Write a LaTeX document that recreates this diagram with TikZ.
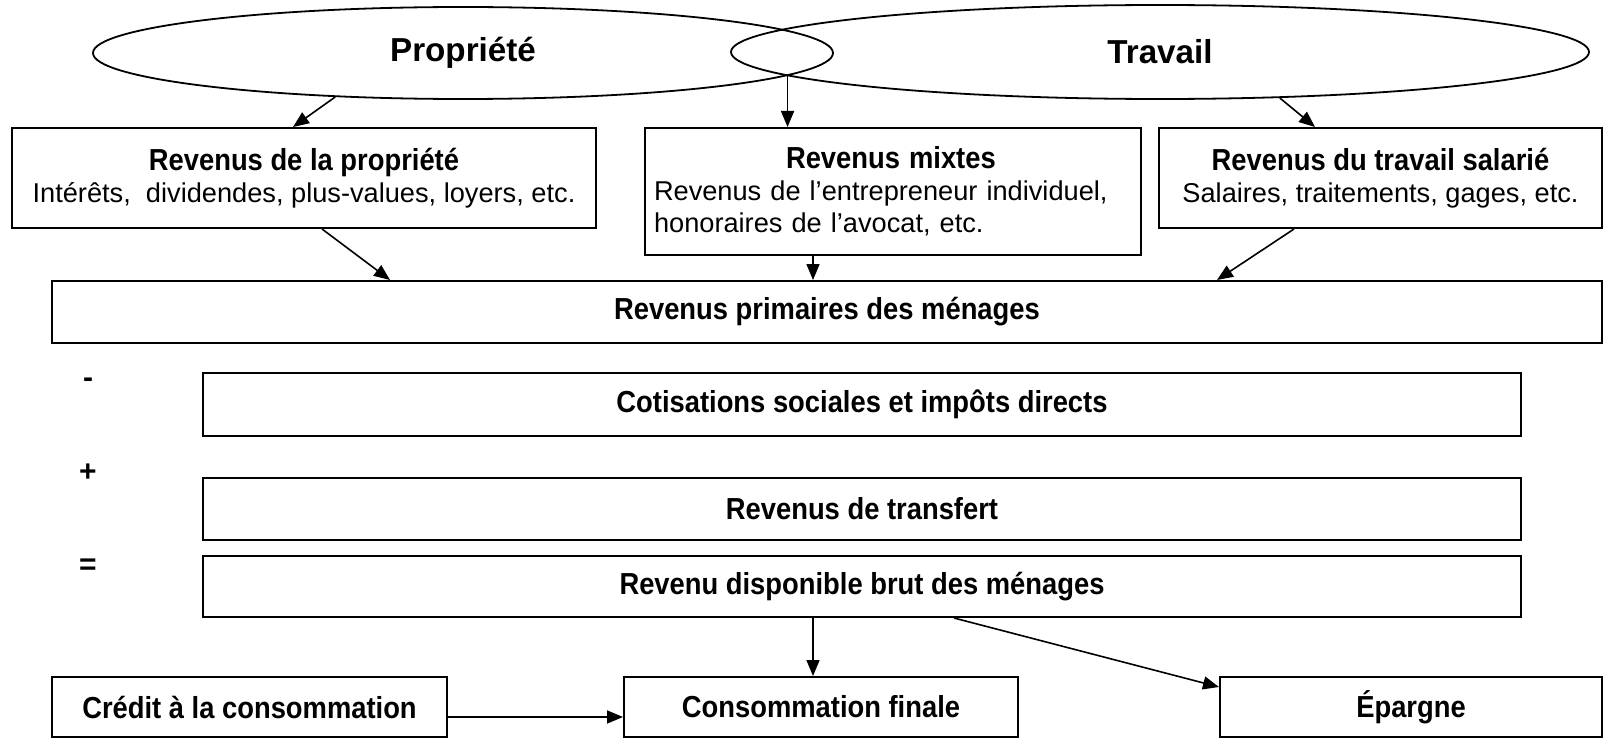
\documentclass[tikz,border=0pt]{standalone}
\usepackage{fontspec}
\setmainfont{Liberation Sans}
\newfontfamily\etroite{Liberation Sans}[FakeStretch=0.9]
\usetikzlibrary{shapes.geometric,arrows.meta}
\newcommand{\titre}[1]{{\etroite\bfseries\fontsize{15.2}{16}\selectfont #1}}

\begin{document}
\begin{tikzpicture}[x=0.5pt,y=-0.5pt,
  boite/.style={draw,line width=1pt,inner sep=0pt,align=center,font=\fontsize{13.6}{16}\selectfont},
  pole/.style={draw,ellipse,line width=0.9pt,inner sep=0pt,font=\bfseries\fontsize{16.6}{18}\selectfont},
  signe/.style={font=\bfseries\fontsize{15}{16}\selectfont},
  fl/.style={-{Triangle[length=8pt,width=6.5pt]},line width=0.8pt}]

\useasboundingbox (0,0) rectangle (1606,738);

\node[pole,minimum width=370pt,minimum height=46pt] (prop) at (463,53) {Propriété};
\node[pole,minimum width=429pt,minimum height=47pt] (trav) at (1160,52) {Travail};

\node[boite,minimum width=292pt,minimum height=50pt] (rprop) at (304,178)
  {\titre{Revenus de la propriété}\\Intérêts,~ dividendes, plus-values, loyers, etc.};
\node[boite,align=left,text width=239pt,minimum width=248pt,minimum height=63.5pt] (rmixte) at (893,191.5)
  {\hspace*{66pt}\titre{Revenus mixtes}\\Revenus de l’entrepreneur individuel,\\honoraires de l’avocat, etc.};
\node[boite,minimum width=221.5pt,minimum height=50pt] (rsal) at (1380.5,178)
  {\titre{Revenus du travail salarié}\\Salaires, traitements, gages, etc.};

\node[boite,minimum width=775pt,minimum height=31pt] (rprim) at (827,312) {\titre{Revenus primaires des ménages}};
\node[boite,minimum width=659pt,minimum height=31.5pt] (cotis) at (862,404.5) {\titre{Cotisations sociales et impôts directs}};
\node[boite,minimum width=659pt,minimum height=31pt] (transf) at (862,509) {\titre{Revenus de transfert}};
\node[boite,minimum width=659pt,minimum height=30.5pt] (rdb) at (862,586.5) {\titre{Revenu disponible brut des ménages}};

\node[boite,minimum width=197.5pt,minimum height=30pt] (credit) at (249.5,707) {\titre{Crédit à la consommation}};
\node[boite,minimum width=197pt,minimum height=30pt] (conso) at (821,707) {\titre{Consommation finale}};
\node[boite,minimum width=191pt,minimum height=30pt] (epargne) at (1411,707) {\titre{Épargne}};

\foreach \s/\y [count=\i] in {-/383,+/473,=/567}
  \node[signe] (signe\i) at (88,\y) {\s};

% flux
\draw[fl] (prop.199) -- ([xshift=-5.5pt]rprop.north);
\draw[fl] (prop.356) -- (prop.356 |- rmixte.north);
\draw[fl] (trav.339) -- ([xshift=-32.75pt]rsal.north);

\draw[fl] ([xshift=9pt]rprop.south) -- ([xshift=-218.5pt]rprim.north);
\draw[fl] ([xshift=-40pt]rmixte.south) -- ([xshift=-40pt]rmixte.south |- rprim.north);
\draw[fl] ([xshift=-43.25pt]rsal.south) -- ([xshift=195pt]rprim.north);

\draw[fl] ([xshift=-4pt]conso.north |- rdb.south) -- ([xshift=-4pt]conso.north);
\draw[fl] ([xshift=46pt]rdb.south) -- ([yshift=10pt]epargne.west);
\draw[fl] ([yshift=-5pt]credit.east) -- ([yshift=-5pt]conso.west);
\end{tikzpicture}
\end{document}
